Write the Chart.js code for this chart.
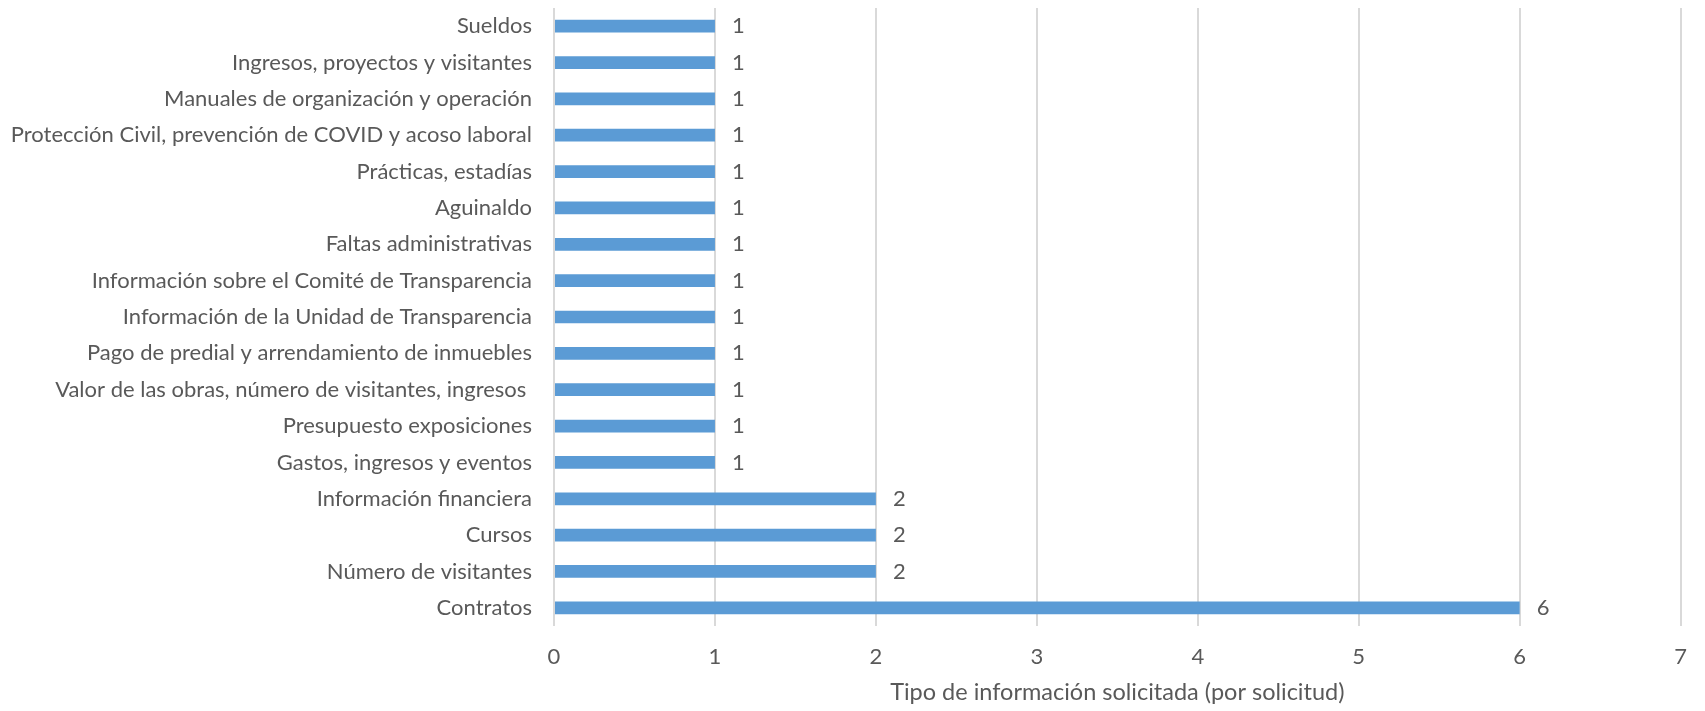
<!DOCTYPE html>
<html>
<head>
<meta charset="utf-8">
<script src="https://cdn.jsdelivr.net/npm/chart.js@4.4.1/dist/chart.umd.min.js"></script>
<style>
  html, body { margin: 0; padding: 0; background: #fff; }
  #wrap { width: 1705px; height: 711px; }
</style>
</head>
<body>
<div id="wrap"><canvas id="myChart"></canvas></div>
<script>
var categories = [
  "Sueldos",
  "Ingresos, proyectos y visitantes",
  "Manuales de organización y operación",
  "Protección Civil, prevención de COVID y acoso laboral",
  "Prácticas, estadías",
  "Aguinaldo",
  "Faltas administrativas",
  "Información sobre el Comité de Transparencia",
  "Información de la Unidad de Transparencia",
  "Pago de predial y arrendamiento de inmuebles",
  "Valor de las obras, número de visitantes, ingresos ",
  "Presupuesto exposiciones",
  "Gastos, ingresos y eventos",
  "Información financiera",
  "Cursos",
  "Número de visitantes",
  "Contratos"
];
var requests = [1, 1, 1, 1, 1, 1, 1, 1, 1, 1, 1, 1, 1, 2, 2, 2, 6];
var xTicks = [0, 1, 2, 3, 4, 5, 6, 7];
var axisTitle = "Tipo de información solicitada (por solicitud)";

var textColor = "#595959";
var fontFamily = "Lato, 'Open Sans', sans-serif";

// value labels at the end of each bar
var barLabels = {
  id: "barLabels",
  afterDatasetsDraw: function(chart) {
    var ctx = chart.ctx;
    var meta = chart.getDatasetMeta(0);
    ctx.save();
    ctx.font = "22px " + fontFamily;
    ctx.fillStyle = textColor;
    ctx.textAlign = "left";
    ctx.textBaseline = "middle";
    meta.data.forEach(function(bar, i) {
      ctx.fillText(String(requests[i]), bar.x + 17, bar.y);
    });
    ctx.restore();
  }
};

new Chart("myChart", {
  type: "bar",
  data: {
    labels: categories,
    datasets: [{
      data: requests,
      backgroundColor: "#5B9BD5",
      borderWidth: 0,
      barPercentage: 0.35,
      categoryPercentage: 1
    }]
  },
  plugins: [barLabels],
  options: {
    indexAxis: "y",
    responsive: true,
    maintainAspectRatio: false,
    animation: false,
    layout: { padding: { left: 0, right: 10, top: 8, bottom: 0 } },
    plugins: {
      legend: { display: false },
      tooltip: { enabled: false }
    },
    scales: {
      x: {
        min: xTicks[0],
        max: xTicks[xTicks.length - 1],
        afterBuildTicks: function(scale) {
          scale.ticks = xTicks.map(function(v) { return { value: v }; });
        },
        afterFit: function(scale) { scale.height = 85; },
        grid: { color: "#D9D9D9", lineWidth: 2, drawTicks: false },
        border: { display: false },
        ticks: {
          color: textColor,
          font: { family: fontFamily, size: 22 },
          padding: 18
        },
        title: {
          display: true,
          text: axisTitle,
          color: textColor,
          font: { family: fontFamily, size: 23.5 },
          padding: { top: 0, bottom: 4 }
        }
      },
      y: {
        afterFit: function(scale) {
          scale.width = 554;
          scale.paddingTop = 0;
          scale.paddingBottom = 0;
        },
        grid: { display: false, drawTicks: false },
        border: { display: false },
        ticks: {
          color: textColor,
          font: { family: fontFamily, size: 22 },
          padding: 22,
          autoSkip: false
        }
      }
    }
  }
});
</script>
</body>
</html>
